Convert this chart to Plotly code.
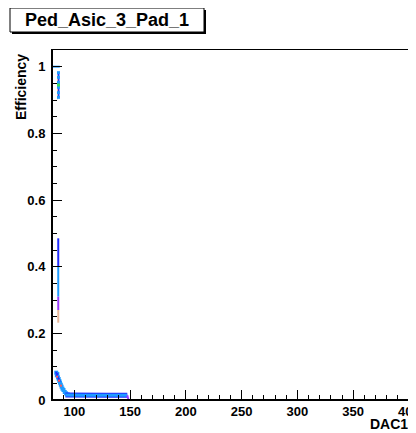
import plotly.graph_objects as go

# ---------------- data ----------------
title_text = "Ped_Asic_3_Pad_1"
x_title = "DAC1"
y_title = "Efficiency"

# plateau at full efficiency (x error bar at y = 1)
top_h_x = [80, 87]
top_h_y = [1.0, 1.0]

# top cluster of efficiency points near x = 86
top_x = [85.8, 85.8, 85.8, 85.8, 85.8, 85.8]
top_y = [0.982, 0.968, 0.953, 0.938, 0.922, 0.908]
top_green_x = [85.8]
top_green_y = [0.945]
top_tan_x = [85.0, 85.0]
top_tan_y = [0.902, 0.975]

# mid vertical bar (segments of differently coloured points)
mid_x = 85.6
mid_lo = [0.400, 0.310, 0.270, 0.232]
mid_hi = [0.485, 0.400, 0.310, 0.270]
mid_colors = ["#1f2bff", "#1e9bff", "#9a3cff", "#e8b89a"]

# low cluster after the drop
low_x = [83.8, 84.3, 84.8, 85.4, 86.0, 86.6, 87.2, 87.9, 88.6, 89.4, 90.3, 91.4, 92.6, 94.0]
low_y = [0.082, 0.074, 0.078, 0.068, 0.063, 0.057, 0.052, 0.046, 0.040, 0.034, 0.030, 0.024, 0.020, 0.017]
low_red_x = [84.6, 86.3, 88.0]
low_red_y = [0.070, 0.058, 0.043]

# flat tail
tail_x = [92, 100, 110, 120, 130, 140, 147.5]
tail_y = [0.015, 0.014, 0.014, 0.014, 0.014, 0.014, 0.014]
drop_x = [147.5, 148.6]
drop_y = [0.014, 0.0]

x_range = [80, 400.05]
y_range = [0, 1.05]

blue = "#1f2bff"
lightblue = "#1e9bff"
purple = "#9a3cff"
tan = "#e8b89a"
green = "#33dd55"
red = "#ff5a5a"

fig = go.Figure()

# top plateau line
fig.add_trace(go.Scatter(x=top_h_x, y=top_h_y, mode="lines",
                         line=dict(color=lightblue, width=2), showlegend=False))
# top cluster
fig.add_trace(go.Scatter(x=[top_x[0], top_x[-1]], y=[top_y[0], top_y[-1]], mode="lines",
                         line=dict(color=blue, width=2), showlegend=False))
fig.add_trace(go.Scatter(x=top_tan_x, y=top_tan_y, mode="lines",
                         line=dict(color=tan, width=1), showlegend=False))
fig.add_trace(go.Scatter(x=top_x, y=top_y, mode="markers",
                         marker=dict(color=lightblue, size=3, symbol="square"), showlegend=False))
fig.add_trace(go.Scatter(x=top_green_x, y=top_green_y, mode="markers",
                         marker=dict(color=green, size=3, symbol="square"), showlegend=False))

# mid bar segments
for lo, hi, c in zip(mid_lo, mid_hi, mid_colors):
    fig.add_trace(go.Scatter(x=[mid_x, mid_x], y=[lo, hi], mode="lines",
                             line=dict(color=c, width=2), showlegend=False))

# low cluster
fig.add_trace(go.Scatter(x=low_x, y=low_y, mode="markers",
                         marker=dict(color=lightblue, size=4, symbol="square"), showlegend=False))
fig.add_trace(go.Scatter(x=low_x[:6], y=low_y[:6], mode="markers",
                         marker=dict(color=blue, size=2, symbol="square"), showlegend=False))
fig.add_trace(go.Scatter(x=low_red_x, y=low_red_y, mode="markers",
                         marker=dict(color=red, size=2, symbol="square"), showlegend=False))

# tail
fig.add_trace(go.Scatter(x=tail_x, y=tail_y, mode="lines",
                         line=dict(color=blue, width=5), showlegend=False))
fig.add_trace(go.Scatter(x=tail_x, y=tail_y, mode="lines",
                         line=dict(color=lightblue, width=3), showlegend=False))
fig.add_trace(go.Scatter(x=drop_x, y=drop_y, mode="lines",
                         line=dict(color=purple, width=2), showlegend=False))

# ---------------- layout ----------------
# the page body has an 8px margin; work in window pixels and shift
OFF = 8
WIN_W, WIN_H = 416, 433
W, H = WIN_W - OFF, WIN_H - OFF
plot_left, plot_right, plot_top, plot_bottom = 52, 409, 50, 400  # window pixels
L = plot_left - OFF
T = plot_top - OFF
R = WIN_W - plot_right
B = WIN_H - plot_bottom
pw = W - L - R
ph = H - T - B


def px(xp):
    return (xp - plot_left) / pw


def py(yp):
    return (plot_bottom - yp) / ph


tick_font = dict(family="Liberation Sans, Arial, sans-serif", size=13, color="black", weight="bold")

fig.update_layout(
    width=W, height=H,
    margin=dict(l=L, r=R, t=T, b=B, pad=0, autoexpand=False),
    paper_bgcolor="white", plot_bgcolor="white",
    showlegend=False,
    xaxis=dict(range=x_range, showgrid=False, zeroline=False, automargin=False,
               showline=True, linecolor="black", linewidth=1, mirror=True,
               ticks="inside", ticklen=10, tickwidth=1, tickcolor="black",
               tick0=0, dtick=50, tickfont=tick_font, ticklabelstandoff=-1,
               ticklabeloverflow="allow",
               minor=dict(ticks="inside", ticklen=5, dtick=10, tick0=0, tickcolor="black", showgrid=False)),
    yaxis=dict(range=y_range, showgrid=False, zeroline=False, automargin=False,
               showline=True, linecolor="black", linewidth=1, mirror=True,
               ticks="inside", ticklen=10, tickwidth=1, tickcolor="black",
               tick0=0, dtick=0.2, tickfont=tick_font, ticklabelstandoff=3,
               tickformat="~g", ticklabeloverflow="allow",
               minor=dict(ticks="inside", ticklen=5, dtick=0.05, tick0=0, tickcolor="black", showgrid=False)),
)

# slightly heavier left and bottom frame lines, as in the reference
fig.add_shape(type="line", xref="paper", yref="paper", x0=0, x1=0, y0=0, y1=1,
              line=dict(color="black", width=2), layer="above")
fig.add_shape(type="line", xref="paper", yref="paper", x0=0, x1=1, y0=0, y1=0,
              line=dict(color="black", width=2), layer="above")

# title box with shadow
fig.add_shape(type="rect", xref="paper", yref="paper",
              x0=px(12), x1=px(206), y0=py(34), y1=py(10),
              fillcolor="black", line=dict(width=0), layer="above")
fig.add_shape(type="rect", xref="paper", yref="paper",
              x0=px(10), x1=px(204), y0=py(32), y1=py(8),
              fillcolor="white", line=dict(color="black", width=1), layer="above")
fig.add_annotation(x=px(107), y=py(20), xref="paper", yref="paper",
                   text=title_text, showarrow=False, xanchor="center", yanchor="middle",
                   font=dict(family="Liberation Sans, Arial, sans-serif", size=18, color="black", weight="bold"))

# axis titles
fig.add_annotation(x=px(21), y=py(52), xref="paper", yref="paper",
                   text=y_title, textangle=-90, showarrow=False,
                   xanchor="center", yanchor="top",
                   font=dict(family="Liberation Sans, Arial, sans-serif", size=14, color="black", weight="bold"))
fig.add_annotation(x=px(410), y=py(433), xref="paper", yref="paper",
                   text=x_title, showarrow=False,
                   xanchor="right", yanchor="bottom", yshift=-1,
                   font=dict(family="Liberation Sans, Arial, sans-serif", size=14, color="black", weight="bold"))

fig.write_html("out.html")
